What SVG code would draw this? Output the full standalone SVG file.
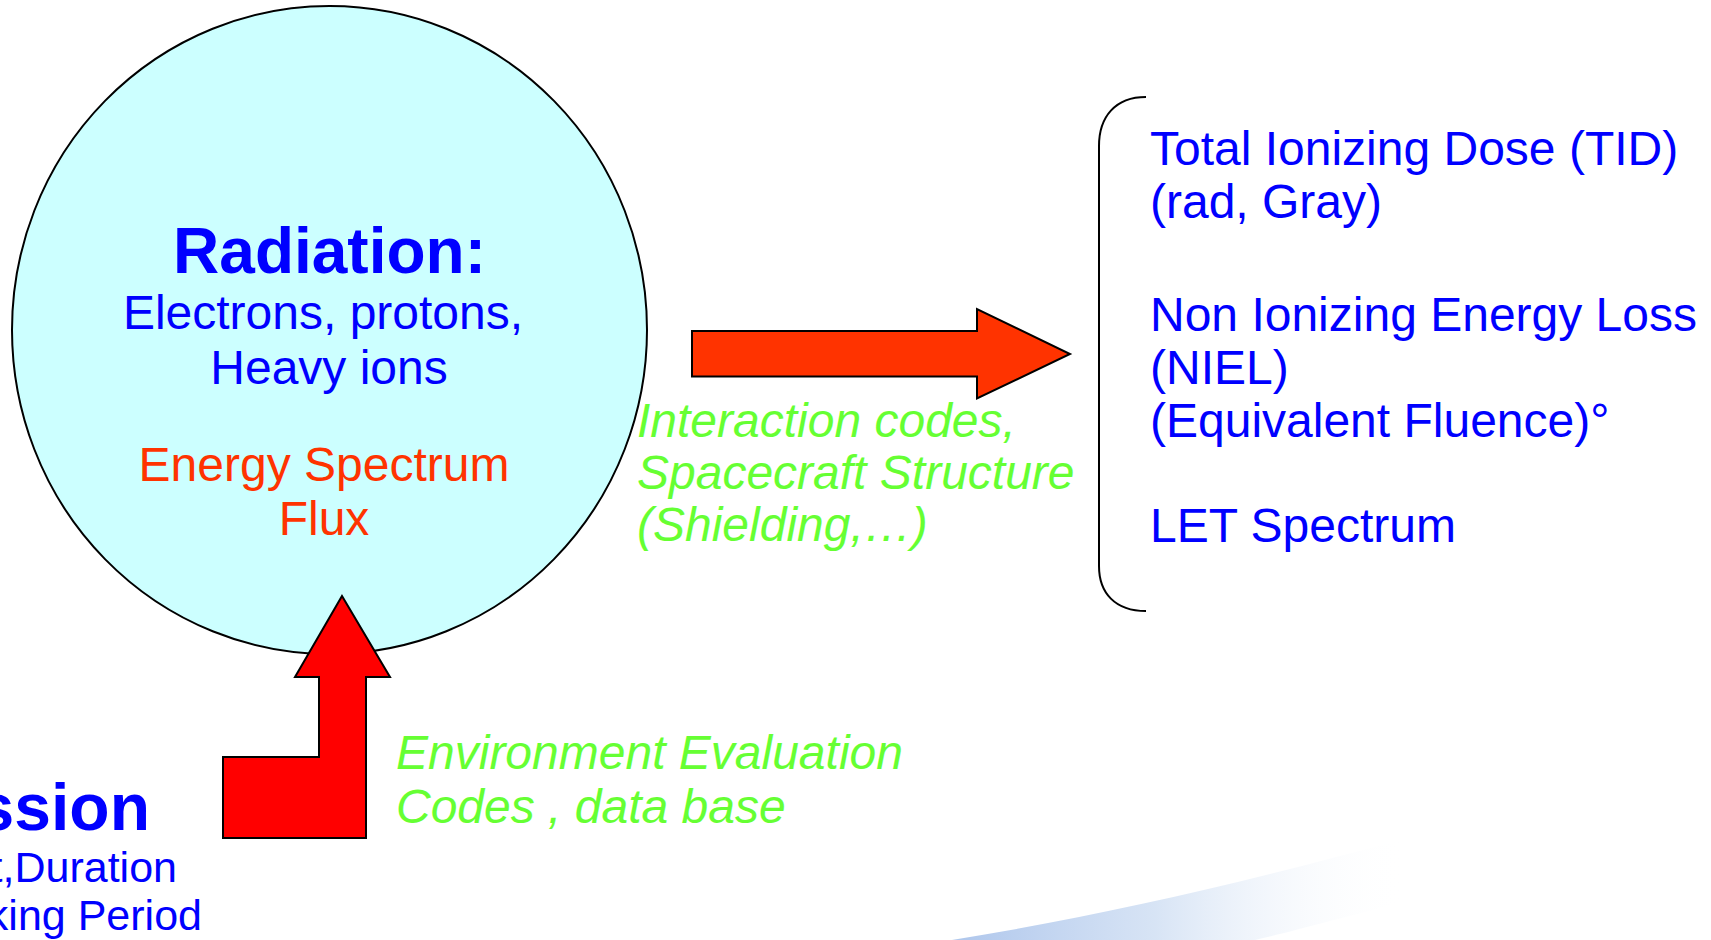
<svg xmlns="http://www.w3.org/2000/svg" width="1711" height="940" viewBox="0 0 1711 940">
  <defs>
    <linearGradient id="swooshGrad" x1="0" y1="0" x2="1" y2="0">
      <stop offset="0" stop-color="#aec6ec" stop-opacity="1"/>
      <stop offset="0.45" stop-color="#d3e1f4" stop-opacity="0.9"/>
      <stop offset="1" stop-color="#ffffff" stop-opacity="0"/>
    </linearGradient>
    <style>
      .t { font-family: "Liberation Sans", Arial, sans-serif; font-size: 48px; }
      .blue { fill: #0000ff; }
      .red { fill: #ff3300; }
      .green { fill: #66ff33; font-style: italic; }
      .bold { font-weight: bold; }
      .arrow { stroke: #000000; stroke-width: 2; stroke-linejoin: miter; }
    </style>
  </defs>
  <rect x="0" y="0" width="1711" height="940" fill="#ffffff"/>

  <g id="decoration">
    <path d="M 952 940 C 1090 918 1240 884 1400 840 L 1405 902 C 1340 918 1290 932 1255 940 Z" fill="url(#swooshGrad)"/>
  </g>

  <g id="node-radiation">
    <ellipse cx="329.5" cy="330" rx="317.5" ry="324" fill="#ccffff" stroke="#000000" stroke-width="2"/>
    <text class="t blue bold" x="329.5" y="273" text-anchor="middle" style="font-size:64px">Radiation:</text>
    <text class="t blue" x="323" y="329" text-anchor="middle">Electrons, protons,</text>
    <text class="t blue" x="329" y="384" text-anchor="middle">Heavy ions</text>
    <text class="t red" x="324" y="481" text-anchor="middle">Energy Spectrum</text>
    <text class="t red" x="324" y="535" text-anchor="middle">Flux</text>
  </g>

  <g id="node-effects">
    <path d="M 1146 97 C 1115 97 1099 117 1099 146 L 1099 566 C 1099 593 1115 611 1146 611" fill="none" stroke="#000000" stroke-width="2"/>
    <text class="t blue" x="1150" y="165">Total Ionizing Dose (TID)</text>
    <text class="t blue" x="1150" y="218">(rad, Gray)</text>
    <text class="t blue" x="1150" y="331">Non Ionizing Energy Loss</text>
    <text class="t blue" x="1150" y="384">(NIEL)</text>
    <text class="t blue" x="1150" y="437">(Equivalent Fluence)°</text>
    <text class="t blue" x="1150" y="542">LET Spectrum</text>
  </g>

  <g id="node-mission">
    <text class="t blue bold" x="150" y="830" text-anchor="end" style="font-size:66px">ssion</text>
    <text class="t blue" x="177" y="882" text-anchor="end" style="font-size:43px">t,Duration</text>
    <text class="t blue" x="202" y="930" text-anchor="end" style="font-size:43px">king Period</text>
  </g>

  <g id="connectors">
    <polygon class="arrow" fill="#ff3300" points="692,331 977,331 977,309 1070,354 977,398.5 977,376.5 692,376.5"/>
    <polygon class="arrow" fill="#ff0000" points="342,596 390,677 366,677 366,838 223,838 223,757 319,757 319,677 295,677"/>
  </g>

  <g id="labels">
    <text class="t green" x="637" y="437">Interaction codes,</text>
    <text class="t green" x="637" y="489">Spacecraft Structure</text>
    <text class="t green" x="637" y="541">(Shielding,…)</text>
    <text class="t green" x="396" y="769">Environment Evaluation</text>
    <text class="t green" x="396" y="823">Codes , data base</text>
  </g>
</svg>
